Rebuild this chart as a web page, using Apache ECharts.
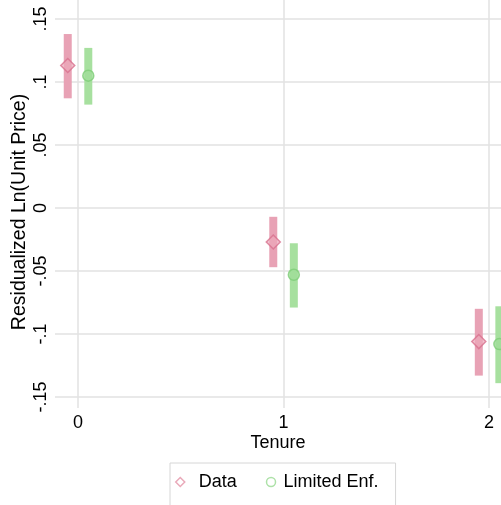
<!DOCTYPE html>
<html>
<head>
<meta charset="utf-8">
<script src="https://cdn.jsdelivr.net/npm/echarts@6/dist/echarts.min.js"></script>
<style>
  html, body { margin: 0; padding: 0; background: #fff; }
  #chart { width: 501px; height: 505px; }
</style>
</head>
<body>
<div id="chart"></div>
<script>
// Tenure groups on the x axis
const tenure = [0, 1, 2];

// Observed data: point estimate and confidence band
const dataEst = [0.113, -0.027, -0.106];
const dataLow = [0.087, -0.047, -0.133];
const dataHigh = [0.138, -0.007, -0.080];

// Limited enforcement model: point estimate and confidence band
const limEst = [0.105, -0.053, -0.108];
const limLow = [0.082, -0.079, -0.139];
const limHigh = [0.127, -0.028, -0.078];

// Axis ticks and their labels
const xTicks = [0, 1, 2];
const xTickLabels = ['0', '1', '2'];
const yTicks = [-0.15, -0.1, -0.05, 0, 0.05, 0.1, 0.15];
const yTickLabels = ['-.15', '-.1', '-.05', '0', '.05', '.1', '.15'];

const FONT = "'Liberation Sans', Arial, Helvetica, sans-serif";
const SHIFT = 0.05;           // horizontal dodge of the two series
const PINK_BAR = '#e8a2b5';
const PINK_EDGE = '#d8728f';
const GREEN_BAR = '#a7e09f';
const GREEN_EDGE = '#7ecd78';
const GRID_COLOR = '#e2e2e2';

function bandData(low, high, dx) {
  return tenure.map((t, i) => [t + dx, low[i], high[i]]);
}
function pointData(est, dx) {
  return tenure.map((t, i) => [t + dx, est[i]]);
}
function bandRenderer(color) {
  return function (params, api) {
    const x = api.value(0);
    const top = api.coord([x, api.value(2)]);
    const bottom = api.coord([x, api.value(1)]);
    const w = 8;
    return {
      type: 'rect',
      shape: { x: top[0] - w / 2, y: top[1], width: w, height: bottom[1] - top[1] },
      style: { fill: color }
    };
  };
}
function labelFor(ticks, labels) {
  return function (v) {
    for (let i = 0; i < ticks.length; i++) {
      if (Math.abs(ticks[i] - v) < 1e-9) return labels[i];
    }
    return '';
  };
}

const chart = echarts.init(document.getElementById('chart'), null, { renderer: 'canvas' });
chart.setOption({
  backgroundColor: '#ffffff',
  animation: false,
  textStyle: { fontFamily: FONT },
  grid: { left: 55, right: 0, top: 0, bottom: 97, containLabel: false, outerBoundsMode: 'none' },
  xAxis: {
    type: 'value',
    min: -0.112,
    max: 2.058,
    name: 'Tenure',
    nameLocation: 'middle',
    nameGap: 26,
    nameMoveOverlap: false,
    nameTextStyle: { fontSize: 18, color: '#000', fontFamily: FONT },
    axisLine: { show: false },
    axisTick: { show: false, customValues: xTicks },
    axisLabel: {
      customValues: xTicks,
      formatter: labelFor(xTicks, xTickLabels),
      fontSize: 18, color: '#000', margin: 6, fontFamily: FONT
    },
    splitLine: { show: true, lineStyle: { color: GRID_COLOR, width: 1.5 } }
  },
  yAxis: {
    type: 'value',
    min: -0.1587,
    max: 0.165,
    name: 'Residualized Ln(Unit Price)',
    nameLocation: 'middle',
    nameGap: 25,
    nameMoveOverlap: false,
    nameTextStyle: { fontSize: 19.5, color: '#000', fontFamily: FONT, padding: [0, 16, 0, 0] },
    axisLine: { show: false },
    axisTick: { show: false, customValues: yTicks },
    axisLabel: {
      customValues: yTicks,
      formatter: labelFor(yTicks, yTickLabels),
      rotate: 90,
      fontSize: 18, color: '#000', margin: 5, fontFamily: FONT
    },
    splitLine: { show: true, lineStyle: { color: GRID_COLOR, width: 1.5 } }
  },
  legend: {
    left: 170,
    top: 463,
    orient: 'horizontal',
    padding: [10, 17, 40, 5],
    borderColor: '#d6d6d6',
    borderWidth: 1,
    itemWidth: 9,
    itemHeight: 9,
    itemGap: 29,
    textStyle: { fontSize: 18, color: '#000', fontFamily: FONT },
    data: [
      { name: 'Data', icon: 'diamond',
        textStyle: { padding: [0, 0, 0, 9] },
        itemStyle: { color: 'transparent', borderColor: '#e493a8', borderWidth: 1.5 } },
      { name: 'Limited Enf.', icon: 'circle',
        textStyle: { padding: [0, 0, 0, 3] },
        itemStyle: { color: 'transparent', borderColor: '#98da92', borderWidth: 1.5 } }
    ]
  },
  series: [
    {
      name: 'Data band',
      type: 'custom',
      renderItem: bandRenderer(PINK_BAR),
      encode: { x: 0, y: [1, 2] },
      data: bandData(dataLow, dataHigh, -SHIFT),
      z: 2
    },
    {
      name: 'Limited band',
      type: 'custom',
      renderItem: bandRenderer(GREEN_BAR),
      encode: { x: 0, y: [1, 2] },
      data: bandData(limLow, limHigh, SHIFT),
      z: 2
    },
    {
      name: 'Data',
      type: 'scatter',
      symbol: 'diamond',
      symbolSize: 14,
      itemStyle: { color: 'rgba(236,168,186,0.85)', borderColor: PINK_EDGE, borderWidth: 1.5 },
      data: pointData(dataEst, -SHIFT),
      z: 3
    },
    {
      name: 'Limited Enf.',
      type: 'scatter',
      symbol: 'circle',
      symbolSize: 11,
      itemStyle: { color: 'rgba(160,220,152,0.9)', borderColor: GREEN_EDGE, borderWidth: 1.5 },
      data: pointData(limEst, SHIFT),
      z: 3
    }
  ]
});
</script>
</body>
</html>
